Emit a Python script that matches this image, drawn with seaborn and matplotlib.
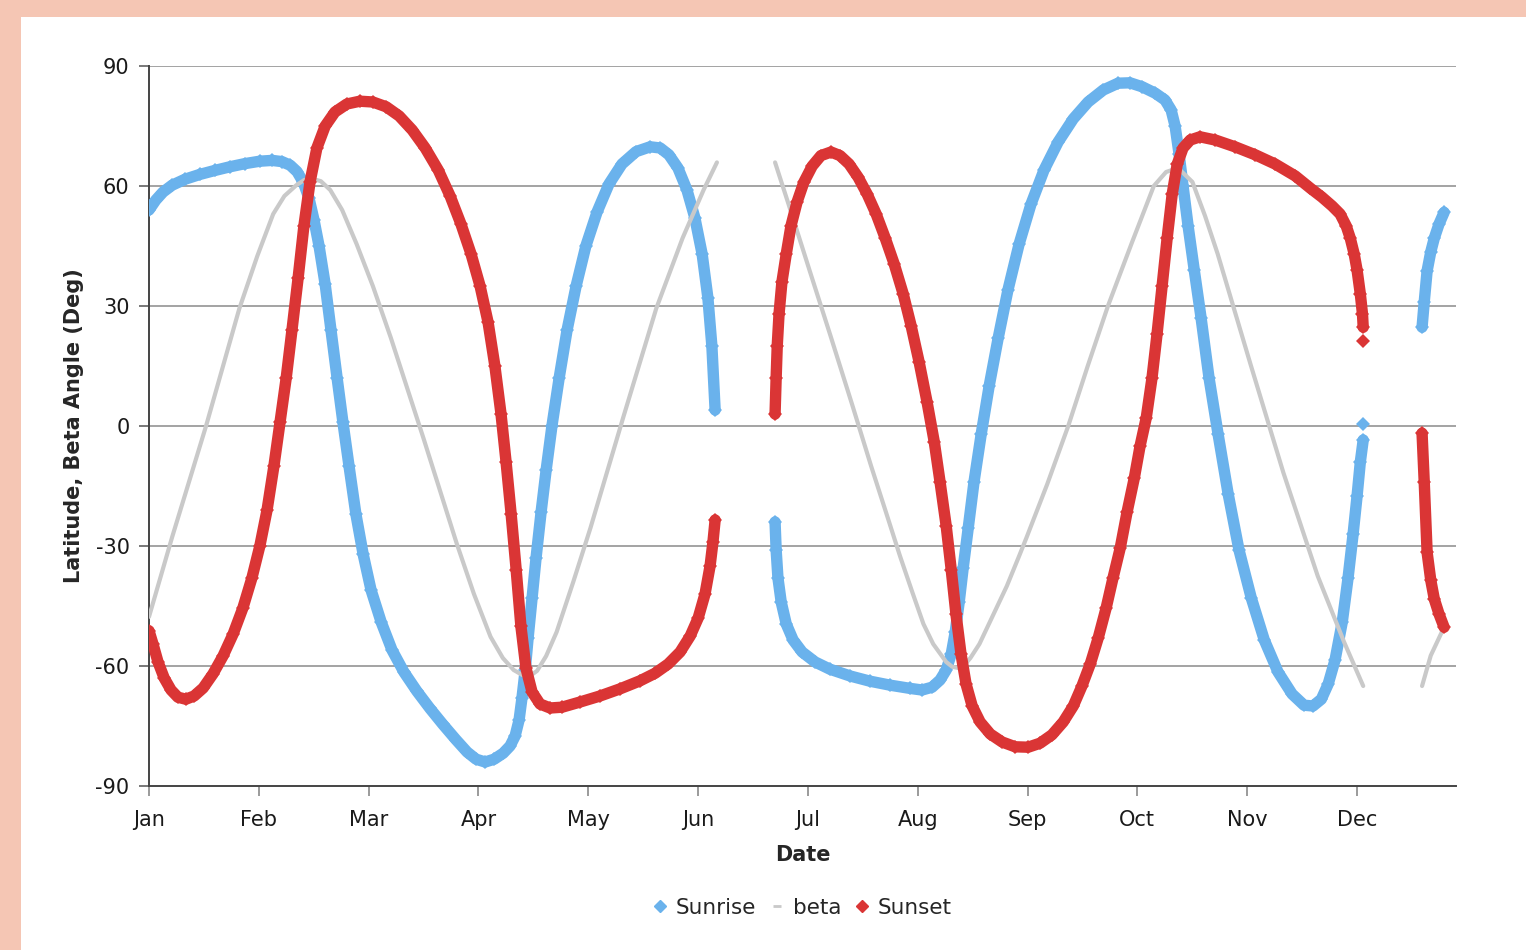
import numpy as np
import pandas as pd
import matplotlib
matplotlib.use("Agg")
import matplotlib.pyplot as plt
from matplotlib.lines import Line2D
from matplotlib.patches import Rectangle
import seaborn as sns

# Day of year (0 = 1 Jan) and angle in degrees, split into the visible arcs.
sunrise_arc1_day = [0, 1.9, 3.9, 6.4, 10, 14.1, 18.3, 22.4, 26.6, 30.7, 34.1, 36.8, 39.1, 41, 42.7, 44.3,
                    45.7, 47.1, 48.8, 50.4, 52.1, 53.7, 55.4, 57.3, 59.3, 61.5, 64.3, 67.3, 70.6, 74.2,
                    77.8, 81.4, 85, 88.1, 90.6, 93.1, 95.6, 98.1, 100, 101.4, 102.5, 103.3, 104.2, 105,
                    106.1, 107.2, 108.6, 110, 111.6, 113.6, 115.8, 118.3, 121, 124.1, 127.4, 131, 134.9,
                    138.8, 141.6, 144, 146.5, 149, 151.2, 153.2, 154.8, 155.9, 156.8]
sunrise_arc1_val = [54, 56.5, 58.5, 60.2, 61.7, 62.9, 63.9, 64.8, 65.6, 66.2, 66.4, 66.1, 65.2, 63.6, 61,
                    57, 51.5, 45, 35.4, 24, 12, 1, -10, -22, -32, -41, -49, -56, -61.5, -66.3, -70.6,
                    -74.6, -78.4, -81.5, -83.3, -84, -83.3, -81.8, -80, -77.5, -73.5, -68, -61, -53, -43,
                    -33, -21.5, -11, 0, 12, 24, 35, 45, 53.5, 60.5, 65.5, 68.6, 69.8, 69.5, 67.8, 64.5,
                    59, 52, 43, 32, 20, 4]
sunrise_arc2_day = [173.4, 173.7, 174.2, 175.1, 176.5, 178.4, 180.9, 184.5, 188.6, 194.2, 199.7, 205.3,
                    210.8, 214.1, 216.9, 219.1, 220.8, 222.2, 223.3, 224.4, 225.5, 226.9, 228.5, 230.5,
                    232.7, 235.2, 237.9, 241, 244.3, 247.9, 251.8, 256, 260.1, 264.3, 268.4, 271.7,
                    275.1, 278.7, 281.4, 283.1, 284.2, 285.3, 286.4, 287.8, 289.5, 291.4, 293.6, 296.1,
                    298.9, 301.9, 305.3, 308.9, 312.7, 316.6, 319.9, 322.4, 324.7, 326.6, 328.5, 330.5,
                    332.1, 333.5, 334.6, 335.5, 336.3]
sunrise_arc2_val = [-24, -31, -38, -44, -49.5, -53.5, -56.5, -59, -60.8, -62.5, -63.8, -64.8, -65.6, -66,
                    -65.3, -63.5, -61, -57, -51.5, -44, -35.5, -25.5, -14, -2, 10, 22, 34, 45.5, 55.5,
                    64, 71, 76.8, 81, 84, 85.7, 85.8, 84.8, 83.2, 81.5, 79, 75, 68, 60, 50, 39, 27, 12,
                    -2, -17, -31, -43, -53.5, -61.5, -67, -69.8, -70, -68.3, -64.5, -58.5, -49, -38, -27,
                    -17.5, -9, -3.5]
sunrise_dot_day = [336.3]
sunrise_dot_val = [0.6]
sunrise_arc3_day = [352.6, 353.2, 354, 355, 356, 357.3, 358.7]
sunrise_arc3_val = [24.7, 31, 38.8, 43.5, 47, 50.5, 53.4]

sunset_arc1_day = [0, 1.1, 2.5, 4.2, 6.1, 8, 10.2, 12.5, 15, 17.7, 20.5, 23.3, 26, 28.5, 30.7, 32.7,
                   34.6, 36.3, 38, 39.6, 41.3, 42.9, 44.6, 46.5, 48.8, 51.5, 54.8, 58.4, 62, 65.7, 69.3,
                   72.9, 76.5, 80.1, 83.4, 86.4, 89.2, 91.7, 93.9, 95.8, 97.5, 98.9, 100.3, 101.7, 103,
                   104.4, 106.1, 108.3, 111.1, 114.4, 119.4, 124.9, 130.5, 136, 140.2, 143.8, 147.1,
                   149.9, 152.1, 154, 155.4, 156.2, 156.8]
sunset_arc1_val = [-51.2, -54.5, -59, -63, -66, -67.8, -68.3, -67.5, -65.5, -62, -57.5, -52, -45.5, -38,
                   -30, -21, -10, 1, 12, 24, 37, 50, 61, 69.5, 75, 78.5, 80.5, 81.2, 81, 79.8, 77.5, 74,
                   69.5, 64, 57.5, 50.5, 43, 35, 26, 15, 3, -9, -22, -36, -50, -60.5, -66.5, -69.5,
                   -70.5, -70.3, -69, -67.5, -65.7, -63.7, -61.8, -59.5, -56.5, -52.5, -48, -42, -35,
                   -29, -23.5]
sunset_arc2_day = [173.4, 173.7, 174, 174.5, 175.3, 176.5, 177.8, 179.5, 181.4, 183.7, 186.1, 188.9,
                   191.4, 193.9, 196.4, 198.9, 201.4, 203.9, 206.4, 208.9, 211.1, 213.3, 215.5, 217.5,
                   219.1, 220.8, 222.2, 223.5, 224.9, 226.3, 228, 230.2, 233, 236.3, 239.9, 243.5,
                   246.8, 250.1, 253.2, 256, 258.4, 260.7, 262.9, 265.1, 267, 269, 270.9, 272.9, 274.5,
                   276.2, 277.8, 279.2, 280.6, 282, 283.4, 284.8, 286.4, 288.4, 291.1, 295.3, 300.8,
                   306.4, 311.9, 317.5, 321.6, 324.9, 327.7, 329.9, 331.6, 332.7, 333.8, 334.6, 335.5,
                   336.1, 336.3]
sunset_arc2_val = [3, 12, 20, 28, 36, 43, 50, 56, 61, 65, 67.6, 68.5, 67.6, 65.5, 62.2, 58, 53, 47, 40.5,
                   33, 25, 16, 6, -4, -14, -25, -36, -47, -57, -64.5, -70, -74, -77, -79, -80.2, -80.3,
                   -79.3, -77.2, -74, -70, -65, -59.5, -53, -45.5, -38, -30.5, -21.5, -13, -5, 2, 12,
                   23, 35, 47, 58, 65.5, 69.5, 71.5, 72.3, 71.5, 69.8, 67.8, 65.5, 62.5, 59.5, 57.2, 55,
                   53, 50, 47, 43, 39, 33, 28, 24.7]
sunset_dot_day = [336.3]
sunset_dot_val = [21.2]
sunset_arc3_day = [352.6, 353.2, 354, 355, 356, 357.3, 358.7]
sunset_arc3_val = [-1.8, -14, -31.6, -38.5, -43.3, -47, -50.3]

beta_arc1_day = [0, 6.4, 15.8, 25, 30, 34.4, 37.5, 40.8, 43, 45.3, 47.6, 50.2, 53.5, 57.5, 62, 67, 71.5,
                 76, 85.2, 90, 94.6, 98, 101, 103.5, 105.5, 107.5, 110, 112.9, 117.5, 122.3, 131.4,
                 140.5, 147.8, 153.6, 157.3]
beta_arc1_val = [-47.7, -27.8, 0, 29.3, 42.5, 53, 57.5, 60.2, 61.5, 61.8, 61.2, 59, 54, 45.5, 35, 22,
                 9.5, -3, -29.3, -42, -52.7, -58, -61, -62.3, -62.5, -61.2, -57.5, -51.5, -39, -25.4,
                 2.3, 29.4, 47, 59, 65.9]
beta_arc2_day = [173.4, 177.3, 183.1, 188.6, 194.7, 200, 204.1, 208, 211.4, 214.5, 217.2, 220.8, 222.5,
                 224.2, 226, 227.5, 230, 232.1, 237.6, 241, 243, 248.8, 254.6, 260, 265.6, 272.3, 278.3,
                 281.7, 285, 289, 292.5, 296, 305.1, 314.2, 323.7, 331, 336.3]
beta_arc2_val = [65.9, 55, 38.5, 23, 5.5, -10, -21.5, -32.5, -41.5, -49.5, -54.5, -59, -60.2, -60.5,
                 -59.6, -58, -54.5, -50.5, -40, -32.5, -28, -14.5, 0, 15, 30, 46, 60, 63.5, 64.5, 61,
                 52.5, 43, 15.4, -11.7, -37.5, -54, -65]
beta_arc3_day = [352.6, 355, 358.7]
beta_arc3_val = [-65, -57.4, -50.3]

month_labels = ["Jan", "Feb", "Mar", "Apr", "May", "Jun", "Jul", "Aug", "Sep", "Oct", "Nov", "Dec"]
y_ticks = [-90, -60, -30, 0, 30, 60, 90]

BLUE = "#6AB2EC"
RED = "#DA3535"
GREY = "#C9C9C9"
BG = "#F5C6B4"


def arcs_frame(*arcs):
    rows = []
    for k, (days, vals) in enumerate(arcs):
        for d, v in zip(days, vals):
            rows.append({"day": d, "angle": v, "arc": k})
    return pd.DataFrame(rows)


sunrise = arcs_frame((sunrise_arc1_day, sunrise_arc1_val), (sunrise_arc2_day, sunrise_arc2_val),
                     (sunrise_dot_day, sunrise_dot_val), (sunrise_arc3_day, sunrise_arc3_val))
sunset = arcs_frame((sunset_arc1_day, sunset_arc1_val), (sunset_arc2_day, sunset_arc2_val),
                    (sunset_dot_day, sunset_dot_val), (sunset_arc3_day, sunset_arc3_val))
beta = arcs_frame((beta_arc1_day, beta_arc1_val), (beta_arc2_day, beta_arc2_val),
                  (beta_arc3_day, beta_arc3_val))

sns.set_theme(style="white")
plt.rcParams["font.family"] = ["DejaVu Sans"]
plt.rcParams["axes.unicode_minus"] = False

W, H = 1526, 950
fig = plt.figure(figsize=(W / 100, H / 100), dpi=100, facecolor=BG)
fig.patches.append(Rectangle((21 / W, 0), 1 - 21 / W, 1 - 17 / H, transform=fig.transFigure,
                             facecolor="white", edgecolor="none", zorder=-5))

ax = fig.add_axes([149 / W, 1 - 786 / H, (1456 - 149) / W, 720 / H])
ax.set_zorder(2)
ax.set_facecolor("white")

month_len = 365 / 12
ax.set_xlim(0, 362)
ax.set_ylim(-90, 90)

for y in y_ticks[1:]:
    ax.axhline(y, color="#8A8A8A", lw=1.1, zorder=1)

line_kw = dict(units="arc", estimator=None, sort=False, legend=False, ax=ax)
sns.lineplot(data=sunrise, x="day", y="angle", color=BLUE, lw=8.2, marker="D", markersize=7,
             markeredgewidth=0, solid_joinstyle="round", zorder=3, **line_kw)
sns.lineplot(data=beta, x="day", y="angle", color=GREY, lw=3, solid_joinstyle="round", zorder=4,
             **line_kw)
sns.lineplot(data=sunset, x="day", y="angle", color=RED, lw=8.2, marker="D", markersize=7,
             markeredgewidth=0, solid_joinstyle="round", zorder=5, **line_kw)

ax.set_xticks([i * month_len for i in range(12)])
ax.set_xticklabels(month_labels)
ax.set_yticks(y_ticks)
ax.tick_params(axis="both", labelsize=15, colors="#1A1A1A", length=7, width=1.1, direction="out")
ax.tick_params(axis="x", color="#808080", pad=10)
ax.tick_params(axis="y", color="#555555", pad=7)
ax.tick_params(bottom=True, left=True)

for side in ("top", "right"):
    ax.spines[side].set_visible(False)
for side in ("left", "bottom"):
    ax.spines[side].set_color("#444444")
    ax.spines[side].set_linewidth(1.4)

ax.set_xlabel("Date", fontsize=15, fontweight="bold", labelpad=11)
ax.set_ylabel("Latitude, Beta Angle (Deg)", fontsize=15, fontweight="bold", labelpad=8)

handles = [
    Line2D([], [], color=BLUE, marker="D", markersize=6, lw=0),
    Line2D([], [], color=GREY, marker="_", markersize=6, markeredgewidth=2, lw=0),
    Line2D([], [], color=RED, marker="D", markersize=6, lw=0),
]
fig.legend(handles, ["Sunrise", "beta", "Sunset"], loc="center", bbox_to_anchor=(801 / W, 1 - 908 / H),
           ncol=3, frameon=False, fontsize=15.5, handlelength=0.9, handletextpad=0.3,
           columnspacing=0.5)

fig.savefig("out.png", dpi=100, facecolor=BG)
